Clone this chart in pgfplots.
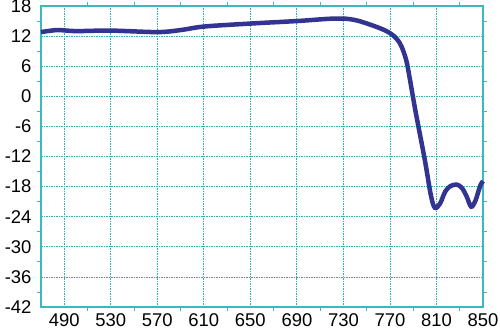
\documentclass[border=0pt]{standalone}
\usepackage{pgfplots}
\pgfplotsset{compat=1.18}
\usepackage{fontspec}
\setmainfont{Liberation Sans}
\definecolor{gridc}{RGB}{40,180,172}
\definecolor{axc}{RGB}{60,185,190}
\definecolor{linec}{RGB}{51,51,145}
\begin{document}
\begin{tikzpicture}
\begin{axis}[
  scale only axis,
  width=442bp, height=301bp,
  xmin=470, xmax=850, ymin=-42, ymax=18,
  xtick={490,530,...,850},
  xticklabels={490,530,570,610,650,690,730,770,810,850},
  ytick={-42,-36,...,18},
  yticklabels={-42,-36,-30,-24,-18,-12,-6,0,6,12,18},
  minor x tick num=1, minor y tick num=1,
  tick align=outside,
  major tick length=0pt, minor tick length=4bp,
  grid=major,
  major grid style={gridc, line width=0.8bp, dash pattern=on 1.5bp off 1bp},
  axis line style={axc, line width=1.2bp},
  minor tick style={axc, line width=0.8bp},
  every tick label/.append style={font=\fontsize{18.5}{20}\selectfont, text=black},
  xticklabel style={yshift=-3bp},
  yticklabel style={xshift=-6bp},
  clip=false,
]
\addplot[linec, line width=4.5bp, smooth, tension=0.55] coordinates {
(470,12.8) (484,13.2) (500,13.0) (530,13.1) (570,12.8) (590,13.2) (610,13.9)
(650,14.5) (690,15.0) (723,15.5) (740,15.2) (760,13.7) (770,12.6) (776,11.4) (780,9.9)
(784,7.2) (787,3.6) (792,-3) (800,-12.7) (805,-19.5) (808.5,-22.2)
(813,-21.4) (817.5,-19) (822,-17.9) (827.5,-17.6) (832,-18.3) (836,-20)
(839.8,-22) (843.5,-20.8) (847.5,-17.9) (850,-16.9)
};
\end{axis}
\pgfresetboundingbox
\useasboundingbox (-41bp,-24bp) rectangle (459bp,307bp);
\end{tikzpicture}
\end{document}
